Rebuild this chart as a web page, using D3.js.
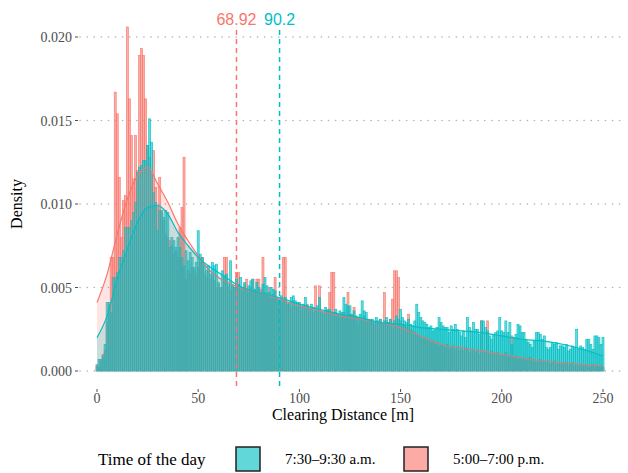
<!DOCTYPE html>
<html>
<head>
<meta charset="utf-8">
<script src="https://cdn.jsdelivr.net/npm/d3@7"></script>
<style>
  body { margin: 0; background: #fff; }
  svg text { font-family: "Liberation Serif", "Times New Roman", serif; }
</style>
</head>
<body>
<div class="clearing-plot"></div>
<script>

// histogram densities, one bin per metre (0..250)
const amDensity = [
  0.0003, 0.0007, 0.0007, 0.0009, 0.0016, 0.0041, 0.0041, 0.0035, 0.0056, 0.0056,
  0.0059, 0.0068, 0.0068, 0.0072, 0.0086, 0.0086, 0.0086, 0.0090, 0.0095, 0.0101,
  0.0119, 0.0122, 0.0123, 0.0126, 0.0126, 0.0135, 0.0151, 0.0137, 0.0107, 0.0101,
  0.0084, 0.0096, 0.0096, 0.0092, 0.0096, 0.0095, 0.0074, 0.0080, 0.0078, 0.0074,
  0.0080, 0.0074, 0.0068, 0.0063, 0.0072, 0.0066, 0.0071, 0.0068, 0.0062, 0.0065,
  0.0084, 0.0070, 0.0068, 0.0063, 0.0060, 0.0063, 0.0058, 0.0065, 0.0063, 0.0064,
  0.0053, 0.0050, 0.0060, 0.0057, 0.0058, 0.0052, 0.0066, 0.0051, 0.0050, 0.0055,
  0.0052, 0.0056, 0.0050, 0.0053, 0.0049, 0.0051, 0.0054, 0.0055, 0.0049, 0.0053,
  0.0050, 0.0046, 0.0052, 0.0056, 0.0051, 0.0047, 0.0050, 0.0049, 0.0048, 0.0044,
  0.0043, 0.0045, 0.0042, 0.0044, 0.0040, 0.0041, 0.0044, 0.0045, 0.0042, 0.0041,
  0.0041, 0.0038, 0.0040, 0.0044, 0.0039, 0.0037, 0.0040, 0.0038, 0.0036, 0.0039,
  0.0044, 0.0036, 0.0035, 0.0038, 0.0036, 0.0037, 0.0035, 0.0035, 0.0037, 0.0034,
  0.0036, 0.0035, 0.0044, 0.0040, 0.0039, 0.0039, 0.0034, 0.0036, 0.0033, 0.0032,
  0.0034, 0.0042, 0.0036, 0.0035, 0.0031, 0.0030, 0.0031, 0.0029, 0.0032, 0.0030,
  0.0031, 0.0028, 0.0030, 0.0032, 0.0029, 0.0031, 0.0028, 0.0030, 0.0033, 0.0031,
  0.0037, 0.0032, 0.0030, 0.0029, 0.0031, 0.0028, 0.0027, 0.0030, 0.0040, 0.0035,
  0.0032, 0.0030, 0.0029, 0.0028, 0.0026, 0.0027, 0.0024, 0.0025, 0.0026, 0.0032,
  0.0029, 0.0027, 0.0026, 0.0026, 0.0023, 0.0027, 0.0025, 0.0028, 0.0025, 0.0023,
  0.0021, 0.0024, 0.0020, 0.0032, 0.0026, 0.0024, 0.0029, 0.0025, 0.0025, 0.0022,
  0.0030, 0.0030, 0.0026, 0.0024, 0.0021, 0.0019, 0.0022, 0.0023, 0.0024, 0.0032,
  0.0024, 0.0023, 0.0030, 0.0023, 0.0029, 0.0016, 0.0020, 0.0022, 0.0028, 0.0027,
  0.0023, 0.0023, 0.0019, 0.0017, 0.0016, 0.0014, 0.0018, 0.0023, 0.0023, 0.0022,
  0.0019, 0.0021, 0.0014, 0.0013, 0.0014, 0.0017, 0.0016, 0.0017, 0.0013, 0.0015,
  0.0015, 0.0014, 0.0016, 0.0012, 0.0013, 0.0015, 0.0014, 0.0025, 0.0013, 0.0015,
  0.0014, 0.0013, 0.0019, 0.0019, 0.0016, 0.0013, 0.0021, 0.0021, 0.0020, 0.0016,
  0.0020
];

const pmDensity = [
  0.0004, 0.0002, 0.0006, 0.0010, 0.0012, 0.0029, 0.0040, 0.0068, 0.0068, 0.0167,
  0.0154, 0.0116, 0.0080, 0.0102, 0.0105, 0.0206, 0.0163, 0.0141, 0.0115, 0.0141,
  0.0120, 0.0189, 0.0193, 0.0189, 0.0163, 0.0135, 0.0128, 0.0118, 0.0132, 0.0110,
  0.0098, 0.0116, 0.0095, 0.0090, 0.0082, 0.0080, 0.0078, 0.0075, 0.0070, 0.0072,
  0.0068, 0.0086, 0.0098, 0.0128, 0.0055, 0.0060, 0.0058, 0.0062, 0.0060, 0.0057,
  0.0062, 0.0065, 0.0068, 0.0058, 0.0056, 0.0060, 0.0055, 0.0057, 0.0054, 0.0050,
  0.0052, 0.0049, 0.0050, 0.0068, 0.0068, 0.0050, 0.0048, 0.0051, 0.0050, 0.0059,
  0.0059, 0.0050, 0.0048, 0.0052, 0.0055, 0.0047, 0.0050, 0.0055, 0.0048, 0.0055,
  0.0055, 0.0049, 0.0068, 0.0047, 0.0045, 0.0050, 0.0044, 0.0046, 0.0056, 0.0042,
  0.0040, 0.0043, 0.0068, 0.0068, 0.0041, 0.0040, 0.0038, 0.0042, 0.0039, 0.0038,
  0.0040, 0.0036, 0.0038, 0.0037, 0.0040, 0.0036, 0.0038, 0.0035, 0.0051, 0.0036,
  0.0051, 0.0035, 0.0034, 0.0036, 0.0037, 0.0047, 0.0059, 0.0059, 0.0035, 0.0033,
  0.0034, 0.0032, 0.0035, 0.0033, 0.0047, 0.0034, 0.0033, 0.0038, 0.0032, 0.0028,
  0.0031, 0.0030, 0.0033, 0.0029, 0.0030, 0.0031, 0.0029, 0.0028, 0.0030, 0.0029,
  0.0031, 0.0028, 0.0047, 0.0030, 0.0029, 0.0031, 0.0043, 0.0060, 0.0060, 0.0056,
  0.0030, 0.0028, 0.0027, 0.0026, 0.0034, 0.0025, 0.0024, 0.0023, 0.0022, 0.0021,
  0.0020, 0.0019, 0.0020, 0.0018, 0.0019, 0.0017, 0.0018, 0.0016, 0.0017, 0.0015,
  0.0016, 0.0015, 0.0014, 0.0016, 0.0013, 0.0014, 0.0015, 0.0013, 0.0014, 0.0012,
  0.0013, 0.0012, 0.0014, 0.0013, 0.0011, 0.0012, 0.0013, 0.0011, 0.0012, 0.0010,
  0.0030, 0.0012, 0.0011, 0.0030, 0.0010, 0.0012, 0.0011, 0.0010, 0.0011, 0.0009,
  0.0010, 0.0009, 0.0011, 0.0008, 0.0009, 0.0021, 0.0008, 0.0009, 0.0007, 0.0008,
  0.0007, 0.0008, 0.0006, 0.0007, 0.0008, 0.0006, 0.0007, 0.0005, 0.0006, 0.0007,
  0.0005, 0.0006, 0.0005, 0.0006, 0.0004, 0.0005, 0.0006, 0.0004, 0.0005, 0.0004,
  0.0005, 0.0004, 0.0005, 0.0003, 0.0004, 0.0005, 0.0003, 0.0004, 0.0003, 0.0004,
  0.0003, 0.0004, 0.0003, 0.0002, 0.0003, 0.0004, 0.0002, 0.0003, 0.0002, 0.0003,
  0.0002
];

// smoothed density curves
const curveX = [0, 5, 10, 15, 20, 25, 30, 35, 40, 45, 50, 55, 60, 65, 70, 80, 90, 100,
  110, 120, 130, 140, 150, 160, 170, 180, 190, 200, 210, 220, 230, 240, 250];
const amCurve = [0.0020, 0.0033, 0.0055, 0.0073, 0.0089, 0.0098, 0.0099, 0.0094, 0.0083,
  0.0075, 0.0068, 0.0063, 0.0059, 0.0055, 0.0051, 0.0047, 0.0044, 0.0040, 0.0037,
  0.0034, 0.0032, 0.0029, 0.0028, 0.0026, 0.0025, 0.0024, 0.0023, 0.0021, 0.0019,
  0.0018, 0.0016, 0.0013, 0.0009];
const pmCurve = [0.0041, 0.0058, 0.0082, 0.0103, 0.0117, 0.0122, 0.0112, 0.0101, 0.0088,
  0.0078, 0.0069, 0.0061, 0.0056, 0.0053, 0.0050, 0.0047, 0.0043, 0.0039, 0.0036,
  0.0033, 0.0031, 0.0029, 0.0026, 0.0021, 0.0016, 0.0014, 0.0012, 0.0010, 0.0008,
  0.0006, 0.0005, 0.0004, 0.0003];

const groups = ['7:30–9:30 a.m.', '5:00–7:00 p.m.'];
const groupColors = ['#00BFC4', '#F8766D'];
const means = [90.2, 68.92];
const meanLabels = ['90.2', '68.92'];
const xTicks = [0, 50, 100, 150, 200, 250];
const yTicks = [0, 0.005, 0.010, 0.015, 0.020];

const width = 628;
const height = 473;

const svg = d3
  .select('.clearing-plot')
  .append('svg')
  .attr('width', width)
  .attr('height', height);

const x = d3.scaleLinear().domain([0, 250]).range([97, 603]);
const y = d3.scaleLinear().domain([0, 0.02]).range([371, 37]);

const panelLeft = 80, panelRight = 622, panelTop = 30, panelBottom = 388;

// dotted horizontal grid
svg.selectAll('.grid')
  .data(yTicks)
  .enter()
  .append('line')
  .attr('x1', panelLeft)
  .attr('x2', panelRight)
  .attr('y1', d => y(d))
  .attr('y2', d => y(d))
  .attr('stroke', '#b3b3b3')
  .attr('stroke-width', 1.6)
  .attr('stroke-linecap', 'round')
  .attr('stroke-dasharray', '0.1 7');

// bins are whole metres 0..250
const bins = d3.range(0, 251);

function drawBars(values, color, cls) {
  svg.selectAll('.' + cls)
    .data(values)
    .enter()
    .append('rect')
    .attr('class', cls)
    .attr('x', (d, i) => x(bins[i] - 0.5))
    .attr('width', (d, i) => x(bins[i] + 0.5) - x(bins[i] - 0.5))
    .attr('y', d => y(d))
    .attr('height', d => y(0) - y(d))
    .attr('fill', color)
    .attr('fill-opacity', 0.6)
    .attr('stroke', color)
    .attr('stroke-width', 0.6);
}

drawBars(pmDensity, groupColors[1], 'pm-bar');
drawBars(amDensity, groupColors[0], 'am-bar');

// density areas + lines
function drawCurve(values, color) {
  const pts = curveX.map((d, i) => [d, values[i]]);
  const area = d3.area()
    .x(d => x(d[0]))
    .y0(y(0))
    .y1(d => y(d[1]))
    .curve(d3.curveMonotoneX);
  const line = d3.line()
    .x(d => x(d[0]))
    .y(d => y(d[1]))
    .curve(d3.curveMonotoneX);
  svg.append('path')
    .attr('d', area(pts))
    .attr('fill', color)
    .attr('fill-opacity', 0.2);
  svg.append('path')
    .attr('d', line(pts))
    .attr('fill', 'none')
    .attr('stroke', color)
    .attr('stroke-width', 1.2);
}

drawCurve(pmCurve, groupColors[1]);
drawCurve(amCurve, groupColors[0]);

// mean lines
svg.selectAll('.mean-line')
  .data(means)
  .enter()
  .append('line')
  .attr('x1', d => x(d))
  .attr('x2', d => x(d))
  .attr('y1', panelTop)
  .attr('y2', panelBottom)
  .attr('stroke', (d, i) => groupColors[i])
  .attr('stroke-width', 1.5)
  .attr('stroke-dasharray', '5 4');

svg.selectAll('.mean-label')
  .data(means)
  .enter()
  .append('text')
  .text((d, i) => meanLabels[i])
  .attr('x', d => x(d))
  .attr('y', 25)
  .attr('text-anchor', 'middle')
  .attr('fill', (d, i) => groupColors[i])
  .style('font-family', '"Liberation Sans", Arial, sans-serif')
  .attr('font-size', 16);

// axes
svg.selectAll('.y-label')
  .data(yTicks)
  .enter()
  .append('text')
  .text(d => d3.format('.3f')(d))
  .attr('x', 72)
  .attr('y', d => y(d) + 5)
  .attr('text-anchor', 'end')
  .attr('fill', '#4d4d4d')
  .attr('font-size', 14);

svg.selectAll('.y-tick')
  .data(yTicks)
  .enter()
  .append('line')
  .attr('x1', 75).attr('x2', 78)
  .attr('y1', d => y(d)).attr('y2', d => y(d))
  .attr('stroke', '#4d4d4d');

svg.selectAll('.x-tick')
  .data(xTicks)
  .enter()
  .append('line')
  .attr('x1', d => x(d)).attr('x2', d => x(d))
  .attr('y1', 389).attr('y2', 392)
  .attr('stroke', '#4d4d4d');

svg.selectAll('.x-label')
  .data(xTicks)
  .enter()
  .append('text')
  .text(d => d)
  .attr('x', d => x(d))
  .attr('y', 403)
  .attr('text-anchor', 'middle')
  .attr('fill', '#4d4d4d')
  .attr('font-size', 14);

svg.append('text')
  .text('Clearing Distance [m]')
  .attr('x', 343)
  .attr('y', 420)
  .attr('text-anchor', 'middle')
  .attr('font-size', 16);

svg.append('text')
  .text('Density')
  .attr('transform', 'translate(22,204) rotate(-90)')
  .attr('text-anchor', 'middle')
  .attr('font-size', 16);

// legend
svg.append('text')
  .text('Time of the day')
  .attr('x', 98)
  .attr('y', 465)
  .attr('font-size', 17);

const legendX = [236, 404];
svg.selectAll('.key')
  .data(groups)
  .enter()
  .append('rect')
  .attr('x', (d, i) => legendX[i])
  .attr('y', 447)
  .attr('width', 24)
  .attr('height', 24)
  .attr('fill', (d, i) => groupColors[i])
  .attr('fill-opacity', 0.62)
  .attr('stroke', '#222')
  .attr('stroke-width', 1.5);

svg.selectAll('.key-label')
  .data(groups)
  .enter()
  .append('text')
  .text(d => d)
  .attr('x', (d, i) => legendX[i] + 49)
  .attr('y', 464)
  .attr('font-size', 15);

</script>
</body>
</html>
